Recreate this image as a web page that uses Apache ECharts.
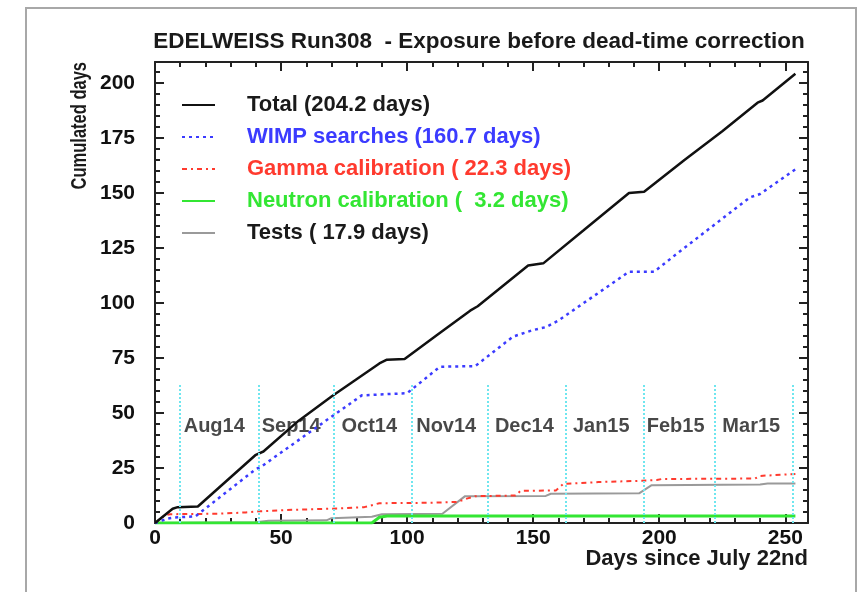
<!DOCTYPE html>
<html>
<head>
<meta charset="utf-8">
<script src="https://cdn.jsdelivr.net/npm/echarts@6/dist/echarts.min.js"></script>
<style>html,body{margin:0;padding:0;background:#fff}#c{width:859px;height:592px}</style>
</head>
<body>
<div id="c"></div>
<script>
// ---- data ----
const totalX = [0,7,9,17,40,43,57,70,89,92,99,112,125,128,148,154,170,188,194,210,225,239,241,254];
const totalY = [0,6.5,7.2,7.5,31,32.5,46.5,57.5,72.5,74.2,74.5,85.5,96.5,98.5,117,118,133,150,150.5,165,178,191,192,204.2];

const wimpX = [0,5,8,16,40,42,70,82,100,113,127,142,150,155,160,188,198,208,236,240,254];
const wimpY = [0,2,2.5,3,24.5,25.5,48.3,58,59,71,71.3,84.7,87.7,89,92,114.2,114.2,123.3,148,149.5,160.7];

const gammaX = [0,4,6,25,36,41,55,73,83,89,110,120,124,127,143,145,159,162,176,193,199,201,238,240,254];
const gammaY = [0,3.5,4,4.2,4.8,5.3,6,6.6,7.2,9,9.2,9.6,11.2,12.2,12.5,14.6,14.8,17.8,18.6,19.2,19.5,20,20.2,21.4,22.3];

const neutronX = [0,86,89,92,254];
const neutronY = [0,0,2.6,3.2,3.2];

const testsX = [0,40,45,68,70,86,90,114,123,155,157,192,197,240,243,254];
const testsY = [0,0.3,1,1.2,2.2,2.8,4,4.2,12.2,12.3,13.3,13.5,17.2,17.5,17.9,17.9];

const legendNames = ['Total (204.2 days)','WIMP searches (160.7 days)','Gamma calibration ( 22.3 days)','Neutron calibration (  3.2 days)','Tests ( 17.9 days)'];

const monthBoundaries = [10,41,71,102,132,163,194,222,253];
const monthBoundaryTop = 63;
const monthNames = ['Aug14','Sep14','Oct14','Nov14','Dec14','Jan15','Feb15','Mar15'];
const monthLabelX = [23.5,54,85,115.5,146.5,177,206.5,236.5];
const monthLabelY = 44;

const titleText = 'EDELWEISS Run308  - Exposure before dead-time correction';
const xName = 'Days since July 22nd';
const yName = 'Cumulated days';

// ---- build ----
const pairs = (xs, ys) => xs.map((x, i) => [x, ys[i]]);
const FONT = "'Liberation Sans', Arial, Helvetica, sans-serif";

const colors = {
  total: '#111111', wimp: '#3b3bff', gamma: '#ff3a2e', neutron: '#33e633', tests: '#9a9a9a'
};

const axisCommon = {
  type: 'value',
  axisLine: { show: true, onZero: false, lineStyle: { color: '#222', width: 2 } },
  axisTick: { show: true, inside: true, length: 9, lineStyle: { color: '#222', width: 2 } },
  minorTick: { show: true, splitNumber: 5, length: 5, lineStyle: { color: '#222', width: 2 } },
  splitLine: { show: false },
  minorSplitLine: { show: false }
};

const xMain = Object.assign({}, axisCommon, {
  min: 0, max: 259, interval: 50, position: 'bottom',
  axisLabel: { show: true, fontSize: 21, fontWeight: 'bold', fontFamily: FONT, color: '#111', margin: 5, showMaxLabel: false }
});
const xTop = Object.assign({}, axisCommon, {
  min: 0, max: 259, interval: 50, position: 'top', axisLabel: { show: false }
});
const yMain = Object.assign({}, axisCommon, {
  min: 0, max: 209.5, interval: 25, position: 'left',
  axisLabel: { show: true, fontSize: 21, fontWeight: 'bold', fontFamily: FONT, color: '#111', margin: 20, showMaxLabel: false }
});
const yRight = Object.assign({}, axisCommon, {
  min: 0, max: 209.5, interval: 25, position: 'right', axisLabel: { show: false }
});

const monthLines = monthBoundaries.map(x => [{ coord: [x, 0] }, { coord: [x, monthBoundaryTop] }]);
const monthLabels = monthNames.map((n, i) => [monthLabelX[i], monthLabelY, n]);

const option = {
  animation: false,
  backgroundColor: '#ffffff',
  title: [{
    text: titleText, left: 479, top: 30, textAlign: 'center', padding: 0,
    textStyle: { fontSize: 22.5, fontWeight: 'bold', fontFamily: FONT, color: '#1a1a1a' }
  }, {
    text: xName, right: 51, top: 548, padding: 0,
    textStyle: { fontSize: 22, fontWeight: 'bold', fontFamily: FONT, color: '#1a1a1a' }
  }],
  grid: { left: 155, right: 51, top: 62, bottom: 69, containLabel: false, outerBoundsMode: 'none' },
  xAxis: [xMain, xTop],
  yAxis: [yMain, yRight],
  legend: {
    orient: 'vertical', left: 176, top: 89, itemWidth: 33, itemHeight: 14, itemGap: 10,
    selectedMode: false,
    itemStyle: { opacity: 0 },
    textStyle: { fontSize: 22, fontWeight: 'bold', fontFamily: FONT, lineHeight: 22, padding: [0, 0, 0, 27] },
    data: [
      { name: legendNames[0], textStyle: { color: '#1a1a1a' } },
      { name: legendNames[1], textStyle: { color: '#3b3bff' } },
      { name: legendNames[2], textStyle: { color: '#ff3a2e' } },
      { name: legendNames[3], textStyle: { color: '#33e633' } },
      { name: legendNames[4], textStyle: { color: '#1a1a1a' } }
    ]
  },
  graphic: [
    { type: 'rect', shape: { x: 26, y: 8, width: 830, height: 640 }, style: { fill: 'none', stroke: '#a8a8a8', lineWidth: 2 }, silent: true, z: -1 },
    { type: 'text', x: 80, y: 62, rotation: Math.PI / 2, scaleX: 0.75,
      style: { text: yName, align: 'right', verticalAlign: 'middle', fontSize: 22, fontWeight: 'bold', fontFamily: FONT, fill: '#1a1a1a' } }
  ],
  series: [
    {
      name: 'months', type: 'line', data: [], silent: true,
      markLine: { silent: true, symbol: 'none', label: { show: false },
        lineStyle: { color: '#6fe6ef', width: 2, type: [2, 2] }, data: monthLines }
    },
    {
      name: 'monthLabels', type: 'scatter', symbolSize: 0, silent: true, data: monthLabels,
      label: { show: true, position: 'inside', formatter: p => p.value[2], fontSize: 20, fontWeight: 'bold', fontFamily: FONT, color: '#1a1a1a' }
    },
    { name: legendNames[4], type: 'line', data: pairs(testsX, testsY), symbol: 'none',
      lineStyle: { color: colors.tests, width: 2 }, itemStyle: { color: colors.tests } },
    { name: legendNames[2], type: 'line', data: pairs(gammaX, gammaY), symbol: 'none',
      lineStyle: { color: colors.gamma, width: 2, type: [5, 4, 2, 4] }, itemStyle: { color: colors.gamma } },
    { name: legendNames[3], type: 'line', data: pairs(neutronX, neutronY), symbol: 'none',
      lineStyle: { color: colors.neutron, width: 3 }, itemStyle: { color: colors.neutron } },
    { name: legendNames[1], type: 'line', data: pairs(wimpX, wimpY), symbol: 'none',
      lineStyle: { color: colors.wimp, width: 2.5, type: [3, 4] }, itemStyle: { color: colors.wimp } },
    { name: legendNames[0], type: 'line', data: pairs(totalX, totalY), symbol: 'none',
      lineStyle: { color: colors.total, width: 2.5 }, itemStyle: { color: colors.total } }
  ]
};

const chart = echarts.init(document.getElementById('c'), null, { renderer: 'canvas' });
chart.setOption(option);
</script>
</body>
</html>
